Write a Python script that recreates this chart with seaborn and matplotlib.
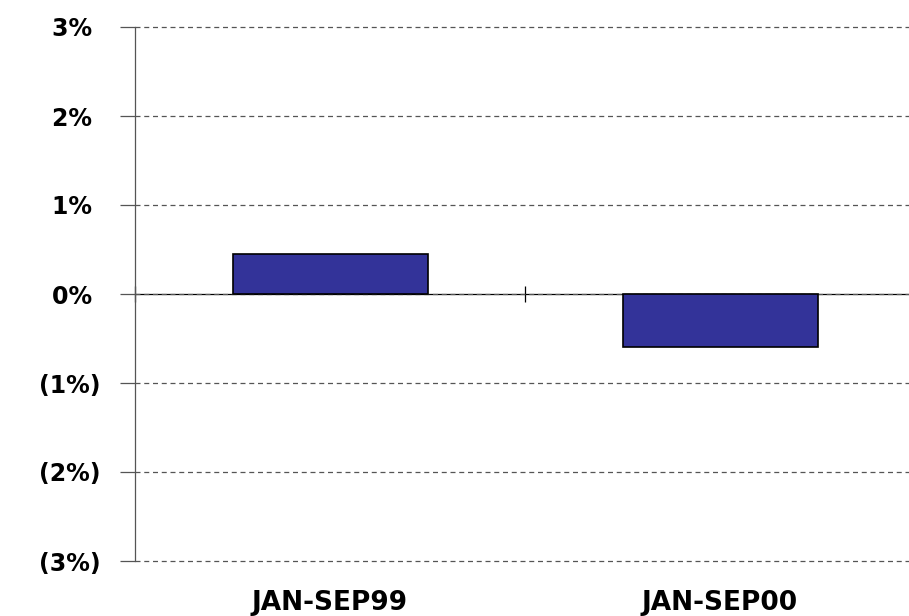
import matplotlib
matplotlib.use('Agg')
import matplotlib.pyplot as plt
import seaborn as sns
from matplotlib.ticker import FixedLocator

# --- Data ---
periods = ['JAN-SEP99', 'JAN-SEP00']
change_pct = [0.45, -0.60]
y_ticks = [-3, -2, -1, 0, 1, 2, 3]
y_tick_labels = ['(3%)', '(2%)', '(1%)', '0% ', '1% ', '2% ', '3% ']

sns.set_theme(style='white')
plt.rcParams['font.family'] = ['DejaVu Sans']
plt.rcParams['text.color'] = 'black'
plt.rcParams['xtick.labelcolor'] = 'black'
plt.rcParams['ytick.labelcolor'] = 'black'

fig = plt.figure(figsize=(9.09, 6.16), dpi=100)
ax = fig.add_axes([135 / 909, 55 / 616, 774 / 909, 534 / 616])

sns.barplot(x=periods, y=change_pct, color='#333399', saturation=1,
            edgecolor='black', linewidth=1.2, width=0.5, ax=ax)

# Axis ranges
ax.set_xlim(-0.5, -0.5 + 774 / 390)
ax.set_ylim(-3, 3)

# Grid lines
ax.set_yticks(y_ticks)
ax.set_yticklabels(y_tick_labels)
ax.yaxis.grid(True, color='#555555', linestyle=(0, (4, 3)), linewidth=0.9)
for gl in ax.get_ygridlines():
    gl.set_clip_on(False)
ax.set_axisbelow(True)

# Spines: left gray, category axis on the zero line (top spine moved there)
for side in ['right', 'bottom']:
    ax.spines[side].set_visible(False)
ax.spines['left'].set_color('#555555')
ax.spines['left'].set_linewidth(0.9)
ax.spines['top'].set_position(('data', 0))
ax.spines['top'].set_color('black')
ax.spines['top'].set_linewidth(0.9)
ax.spines['top'].set_zorder(0.5)

ax.xaxis.set_minor_locator(FixedLocator([-0.5, 0.5]))
ax.tick_params(axis='x', which='minor', top=True, bottom=False,
               direction='inout', length=12, width=0.9, color='black')
ax.tick_params(axis='x', which='major', bottom=True, top=False, length=0,
               pad=21, labelsize=19)
ax.tick_params(axis='y', which='major', left=True, direction='out',
               length=11, width=0.9, color='#555555', pad=14, labelsize=17)

for lbl in ax.get_xticklabels() + ax.get_yticklabels():
    lbl.set_fontweight('bold')

ax.set_xlabel('')
ax.set_ylabel('')

fig.savefig('out.png', dpi=100)
